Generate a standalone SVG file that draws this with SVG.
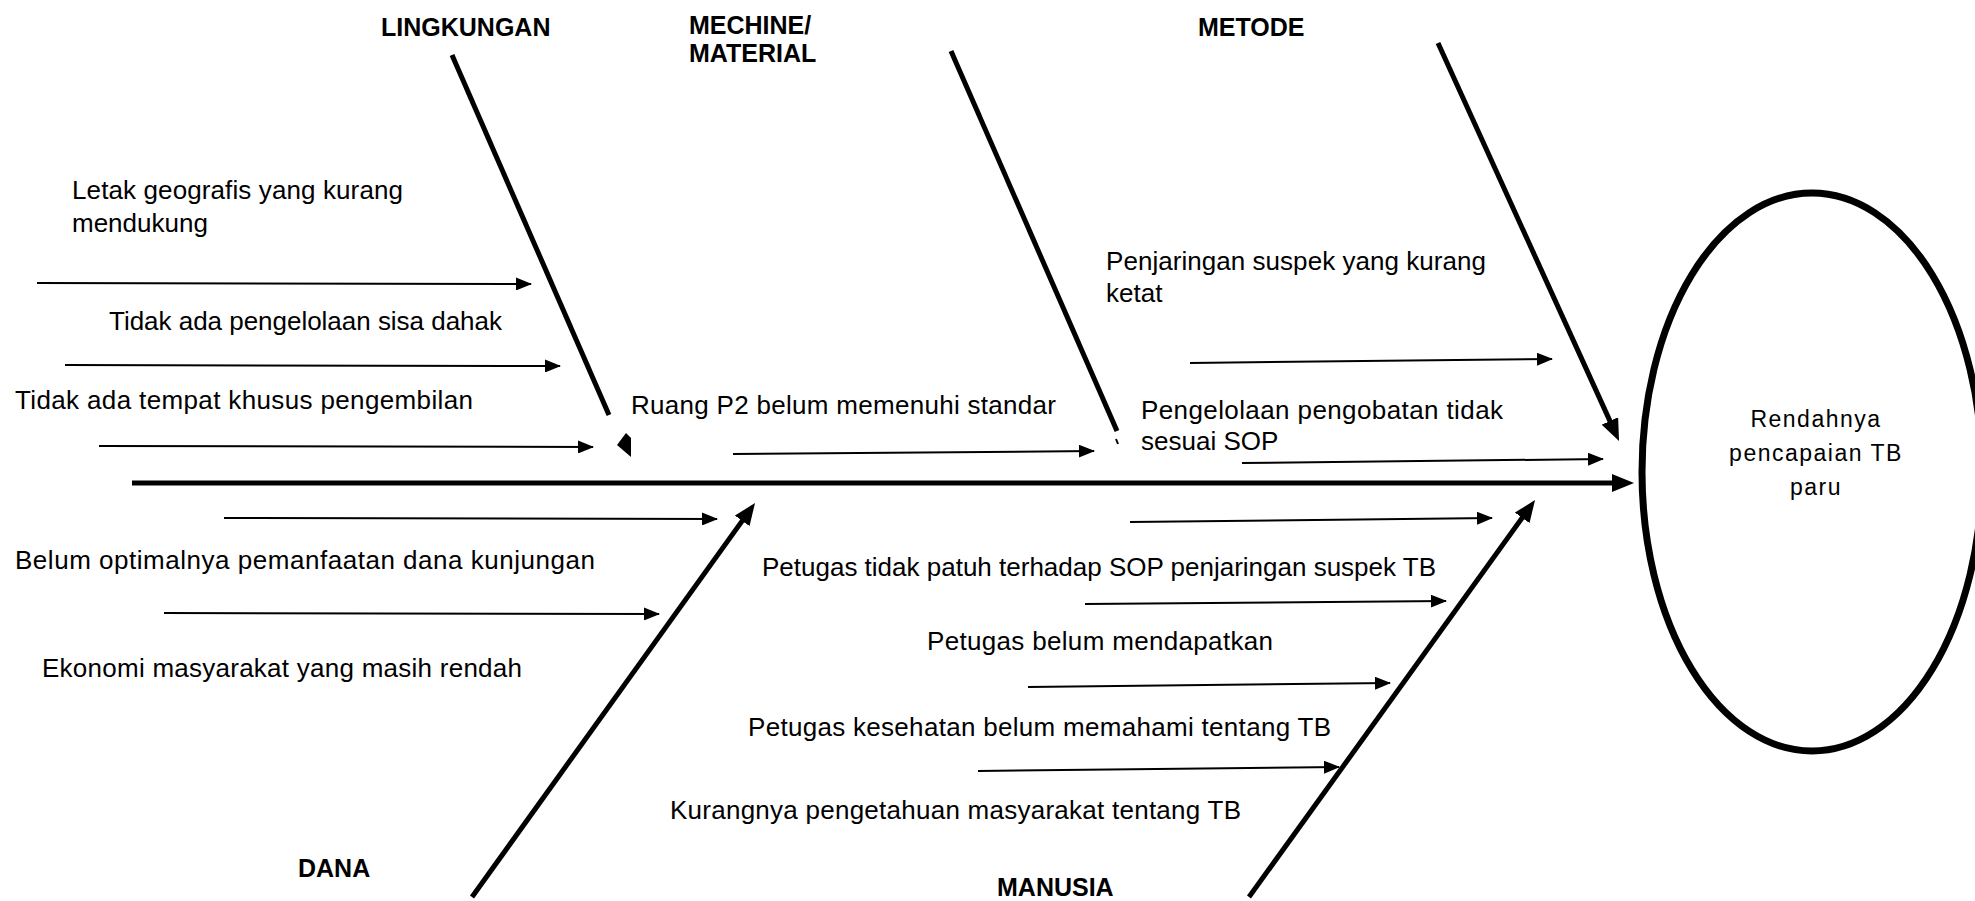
<svg xmlns="http://www.w3.org/2000/svg" width="1975" height="901" viewBox="0 0 1975 901">
<defs>
<style>
.t{font-family:"Liberation Sans",Arial,sans-serif;font-size:26px;fill:#000}
.h{font-family:"Liberation Sans",Arial,sans-serif;font-size:25px;font-weight:bold;fill:#000}
.e{font-family:"Liberation Sans",Arial,sans-serif;font-size:23px;letter-spacing:1.5px;fill:#000;text-anchor:middle}
.a{stroke:#000;stroke-width:2;fill:none;marker-end:url(#sa)}
.b{stroke:#000;stroke-width:5;fill:none;marker-end:url(#ba)}
.bn{stroke:#000;stroke-width:5;fill:none}
</style>
<marker id="sa" markerUnits="userSpaceOnUse" markerWidth="16" markerHeight="13" refX="15" refY="6.5" orient="auto">
<path d="M0,0 L16,6.5 L0,13 z" fill="#000"/>
</marker>
<marker id="ba" markerUnits="userSpaceOnUse" markerWidth="22" markerHeight="18" refX="12" refY="9" orient="auto">
<path d="M0,0 L22,9 L0,18 z" fill="#000"/>
</marker>
</defs>
<rect width="1975" height="901" fill="#fff"/>

<g id="connectors">
<line class="b" x1="132" y1="483" x2="1624" y2="483"/>
<line class="bn" x1="452" y1="55" x2="609" y2="415"/>
<polygon points="617,445 626,433 631,438 631,457" fill="#000"/>
<line class="bn" x1="951" y1="51" x2="1117" y2="431"/>
<line x1="1116" y1="439" x2="1118" y2="444" stroke="#000" stroke-width="2"/>
<line class="b" x1="1438" y1="43" x2="1614.9" y2="431.9"/>
<line class="b" x1="472" y1="897" x2="749.2" y2="511.1"/>
<line class="b" x1="1249" y1="897" x2="1529.2" y2="508.1"/>
<line class="a" x1="37" y1="283" x2="531" y2="284"/>
<line class="a" x1="65" y1="365" x2="560" y2="366"/>
<line class="a" x1="99" y1="446" x2="593" y2="447"/>
<line class="a" x1="733" y1="454" x2="1094" y2="451"/>
<line class="a" x1="1190" y1="363" x2="1552" y2="359"/>
<line class="a" x1="1242" y1="463" x2="1603" y2="459"/>
<line class="a" x1="224" y1="518" x2="717" y2="519"/>
<line class="a" x1="164" y1="613" x2="659" y2="614"/>
<line class="a" x1="1130" y1="522" x2="1492" y2="518"/>
<line class="a" x1="1085" y1="604" x2="1446" y2="601"/>
<line class="a" x1="1028" y1="687" x2="1390" y2="683"/>
<line class="a" x1="978" y1="771" x2="1339" y2="767"/>
</g>

<g id="effect">
<ellipse cx="1812" cy="472" rx="170" ry="279" fill="none" stroke="#000" stroke-width="7"/>
<text class="e" x="1816" y="427">Rendahnya</text>
<text class="e" x="1816" y="461">pencapaian TB</text>
<text class="e" x="1816" y="495">paru</text>
</g>

<g id="cat-lingkungan"><text class="h" x="381" y="36">LINGKUNGAN</text></g>
<g id="cat-mechine"><text class="h" x="689" y="34">MECHINE/</text><text class="h" x="689" y="62">MATERIAL</text></g>
<g id="cat-metode"><text class="h" x="1198" y="36">METODE</text></g>
<g id="cat-dana"><text class="h" x="298" y="877">DANA</text></g>
<g id="cat-manusia"><text class="h" x="997" y="896">MANUSIA</text></g>

<g id="c-letak"><text class="t" x="72" y="199" textLength="331">Letak geografis yang kurang</text><text class="t" x="72" y="232">mendukung</text></g>
<g id="c-dahak"><text class="t" x="109" y="330" textLength="393">Tidak ada pengelolaan sisa dahak</text></g>
<g id="c-tempat"><text class="t" x="15" y="409" textLength="458">Tidak ada tempat khusus pengembilan</text></g>
<g id="c-ruang"><text class="t" x="631" y="414" textLength="425">Ruang P2 belum memenuhi standar</text></g>
<g id="c-penjaringan"><text class="t" x="1106" y="270" textLength="380">Penjaringan suspek yang kurang</text><text class="t" x="1106" y="302">ketat</text></g>
<g id="c-pengelolaan"><text class="t" x="1141" y="419" textLength="362">Pengelolaan pengobatan tidak</text><text class="t" x="1141" y="450">sesuai SOP</text></g>
<g id="c-dana1"><text class="t" x="15" y="569" textLength="580">Belum optimalnya pemanfaatan dana kunjungan</text></g>
<g id="c-ekonomi"><text class="t" x="42" y="677" textLength="480">Ekonomi masyarakat yang masih rendah</text></g>
<g id="c-patuh"><text class="t" x="762" y="576" textLength="674">Petugas tidak patuh terhadap SOP penjaringan suspek TB</text></g>
<g id="c-mendapatkan"><text class="t" x="927" y="650" textLength="346">Petugas belum mendapatkan</text></g>
<g id="c-memahami"><text class="t" x="748" y="736" textLength="583">Petugas kesehatan belum memahami tentang TB</text></g>
<g id="c-pengetahuan"><text class="t" x="670" y="819" textLength="571">Kurangnya pengetahuan masyarakat tentang TB</text></g>
</svg>
